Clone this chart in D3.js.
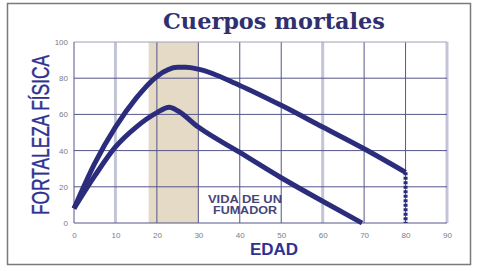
<html lang="en">
<head>
<style>
	body { margin: 0; background: #fff; }
	.tick text { font-family: "Liberation Sans", Arial, sans-serif; font-size: 8px; fill: #7a7a8e; }
</style>
</head>
<body>
<svg width="477" height="271"></svg>
</body>
<script type='text/javascript' src='https://d3js.org/d3.v7.min.js'></script>
<script>
	// data
	var ages = [0, 5, 10, 15, 20, 25, 27, 30, 40, 50, 60, 70, 80];
	var healthy = [8, 33, 53, 69, 81, 86, 86, 85, 76, 65, 53, 41, 28];
	var smokerAges = [0, 5, 10, 15, 20, 23, 25, 30, 40, 50, 60, 69.5];
	var smoker = [8, 26, 42, 53, 61, 64, 62, 53, 39, 25, 12, 0];
	var xTicks = [0, 10, 20, 30, 40, 50, 60, 70, 80, 90];
	var yTicks = [0, 20, 40, 60, 80, 100];
	var band = [18, 30];

	var navy = "#2b2d7c";
	var svg = d3.select("svg");

	// outer frame
	svg.append("rect")
	.attr("x", 7.5).attr("y", 3.5)
	.attr("width", 463).attr("height", 261)
	.attr("fill", "none")
	.attr("stroke", "#7a7a7a")
	.attr("stroke-width", 1.5);

	var x = d3.scaleLinear().domain([0, 90]).range([74, 447]);
	var y = d3.scaleLinear().domain([0, 100]).range([223, 42]);

	svg.append("text")
	.attr("x", 274)
	.attr("y", 29)
	.attr("text-anchor", "middle")
	.attr("font-family", "'DejaVu Serif', 'Liberation Serif', serif")
	.attr("font-weight", "bold")
	.attr("font-size", "22px")
	.attr("textLength", 222)
	.attr("lengthAdjust", "spacingAndGlyphs")
	.attr("fill", "#303070")
	.text("Cuerpos mortales");

	// shaded band
	svg.append("rect")
	.attr("x", x(band[0]))
	.attr("y", y(100))
	.attr("width", x(band[1]) - x(band[0]))
	.attr("height", y(0) - y(100))
	.attr("fill", "#e4dac5");

	// vertical grid: light ones at 10, 60, 90
	var light = [10, 60, 90];
	svg.append("g").selectAll("line")
	.data(xTicks.filter(function(d) { return d > 0; }))
	.enter().append("line")
	.attr("x1", function(d) { return x(d); })
	.attr("x2", function(d) { return x(d); })
	.attr("y1", y(100))
	.attr("y2", y(0))
	.attr("stroke", function(d) { return light.indexOf(d) >= 0 ? "#c4c4d8" : "#55558a"; })
	.attr("stroke-width", function(d) { return light.indexOf(d) >= 0 ? 3 : 1; });

	// horizontal grid
	svg.append("g").selectAll("line")
	.data(yTicks)
	.enter().append("line")
	.attr("x1", x(0))
	.attr("x2", x(90))
	.attr("y1", function(d) { return y(d); })
	.attr("y2", function(d) { return y(d); })
	.attr("stroke", function(d) { return d == 100 ? "#a0a0b8" : "#55558a"; })
	.attr("stroke-width", 1);

	svg.append("line")
	.attr("x1", x(0)).attr("x2", x(0))
	.attr("y1", y(100)).attr("y2", y(0))
	.attr("stroke", "#55558a");

	// axes (labels only)
	svg.append("g")
	.attr("transform", "translate(0," + (y(0) + 4) + ")")
	.call(d3.axisBottom(x).tickValues(xTicks).tickSize(0).tickPadding(5))
	.call(function(g) { g.select(".domain").remove(); });

	svg.append("g")
	.attr("transform", "translate(" + (x(0) - 4) + ",0)")
	.call(d3.axisLeft(y).tickValues(yTicks).tickSize(0).tickPadding(2))
	.call(function(g) { g.select(".domain").remove(); });

	var line = d3.line()
	.x(function(d) { return x(d[0]); })
	.y(function(d) { return y(d[1]); })
	.curve(d3.curveMonotoneX);

	svg.append("path")
	.datum(d3.zip(ages, healthy))
	.attr("d", line)
	.attr("fill", "none")
	.attr("stroke", navy)
	.attr("stroke-width", 5)
	.attr("stroke-linejoin", "round");

	svg.append("path")
	.datum(d3.zip(smokerAges, smoker))
	.attr("d", line)
	.attr("fill", "none")
	.attr("stroke", navy)
	.attr("stroke-width", 5)
	.attr("stroke-linejoin", "round");

	// dashed drop at 80
	svg.append("line")
	.attr("x1", x(80)).attr("x2", x(80))
	.attr("y1", y(healthy[healthy.length - 1]))
	.attr("y2", y(0))
	.attr("stroke", navy)
	.attr("stroke-width", 4)
	.attr("stroke-dasharray", "3,1.5");

	var note = svg.append("text")
	.attr("text-anchor", "middle")
	.attr("font-family", "'Liberation Sans', Arial, sans-serif")
	.attr("font-weight", "bold")
	.attr("font-size", "10px")
	.attr("fill", "#45457a");
	note.append("tspan").attr("x", 245).attr("y", 203)
	.attr("textLength", 74).attr("lengthAdjust", "spacingAndGlyphs").text("VIDA DE UN");
	note.append("tspan").attr("x", 245).attr("y", 214)
	.attr("textLength", 64).attr("lengthAdjust", "spacingAndGlyphs").text("FUMADOR");

	svg.append("text")
	.attr("transform", "translate(49,135) rotate(-90)")
	.attr("text-anchor", "middle")
	.attr("font-family", "'Liberation Sans Narrow', 'Liberation Sans', Arial, sans-serif")
	.attr("font-size", "23px")
	.attr("textLength", 160)
	.attr("lengthAdjust", "spacingAndGlyphs")
	.attr("fill", "#2e3192")
	.attr("stroke", "#2e3192")
	.attr("stroke-width", 0.4)
	.text("FORTALEZA FÍSICA");

	svg.append("text")
	.attr("x", 274)
	.attr("y", 255)
	.attr("text-anchor", "middle")
	.attr("font-family", "'Liberation Sans', Arial, sans-serif")
	.attr("font-weight", "bold")
	.attr("font-size", "17px")
	.attr("fill", "#2e3192")
	.text("EDAD");
</script>
</html>
